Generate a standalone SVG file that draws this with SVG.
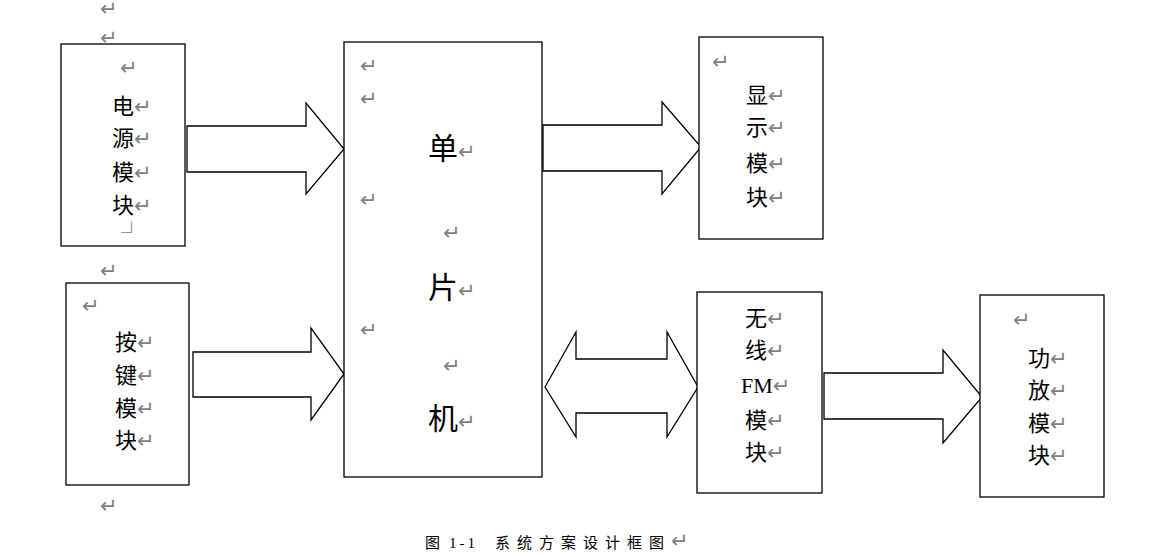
<svg xmlns="http://www.w3.org/2000/svg" width="1164" height="557" viewBox="0 0 1164 557">
<style>
.box{fill:#fff;stroke:#000;stroke-width:1.3}
.arr{fill:#fff;stroke:#000;stroke-width:1.3;stroke-linejoin:miter}
.t{font-family:"Liberation Serif","Noto Sans CJK SC",serif;font-size:22px;fill:#000}
.big{font-size:30px}
.p{font-family:"Noto Sans CJK SC","DejaVu Sans",sans-serif;font-size:21px;fill:#808080}
.cap{font-family:"Liberation Serif","Noto Sans CJK SC",serif;font-size:15px;fill:#000}
</style>
<rect width="1164" height="557" fill="#fff"/>
<text class="p" x="100" y="16">↵</text>
<text class="p" x="100" y="45">↵</text>
<text class="p" x="100" y="278">↵</text>
<text class="p" x="100" y="513">↵</text>

<g id="connectors">
<polygon class="arr" points="187,126 306,126 306,103 344,149 306,194 306,172 187,172"/>
<polygon class="arr" points="193,352 311,352 311,328 344,374 311,420 311,397 193,397"/>
<polygon class="arr" points="543,125 662,125 662,102 701,147 662,194 662,171 543,171"/>
<polygon class="arr" points="545,387 576,332 576,359 667,359 667,332 698,387 667,437 667,413 576,413 576,437"/>
<polygon class="arr" points="824,373 943,373 943,350 982,397 943,443 943,419 824,419"/>
</g>

<g id="power">
<rect class="box" x="61" y="44" width="124" height="202"/>
<text class="p" x="120" y="75">↵</text>
<text class="t" x="112" y="114">电<tspan class="p">↵</tspan></text>
<text class="t" x="112" y="146">源<tspan class="p">↵</tspan></text>
<text class="t" x="112" y="180">模<tspan class="p">↵</tspan></text>
<text class="t" x="112" y="213">块<tspan class="p">↵</tspan></text>
<text class="p" x="121" y="240" font-size="13">┘</text>
</g>

<g id="keys">
<rect class="box" x="66" y="283" width="123" height="202"/>
<text class="p" x="82" y="313">↵</text>
<text class="t" x="115" y="350">按<tspan class="p">↵</tspan></text>
<text class="t" x="115" y="383">键<tspan class="p">↵</tspan></text>
<text class="t" x="115" y="416">模<tspan class="p">↵</tspan></text>
<text class="t" x="115" y="448">块<tspan class="p">↵</tspan></text>
</g>

<g id="mcu">
<rect class="box" x="344" y="42" width="198" height="435"/>
<text class="p" x="360" y="73">↵</text>
<text class="p" x="360" y="106">↵</text>
<text class="t big" x="428" y="159">单<tspan class="p" font-size="26">↵</tspan></text>
<text class="p" x="360" y="207">↵</text>
<text class="p" x="443" y="240">↵</text>
<text class="t big" x="428" y="298">片<tspan class="p" font-size="26">↵</tspan></text>
<text class="p" x="360" y="337">↵</text>
<text class="p" x="443" y="373">↵</text>
<text class="t big" x="428" y="429">机<tspan class="p" font-size="26">↵</tspan></text>
</g>

<g id="display">
<rect class="box" x="699" y="37" width="124" height="202"/>
<text class="p" x="712" y="69">↵</text>
<text class="t" x="746" y="103">显<tspan class="p">↵</tspan></text>
<text class="t" x="746" y="135">示<tspan class="p">↵</tspan></text>
<text class="t" x="746" y="171">模<tspan class="p">↵</tspan></text>
<text class="t" x="746" y="205">块<tspan class="p">↵</tspan></text>
</g>

<g id="fm">
<rect class="box" x="697" y="292" width="125" height="201"/>
<text class="t" x="745" y="326">无<tspan class="p">↵</tspan></text>
<text class="t" x="745" y="358">线<tspan class="p">↵</tspan></text>
<text class="t" x="741" y="393">FM<tspan class="p">↵</tspan></text>
<text class="t" x="745" y="428">模<tspan class="p">↵</tspan></text>
<text class="t" x="745" y="460">块<tspan class="p">↵</tspan></text>
</g>

<g id="amp">
<rect class="box" x="980" y="295" width="124" height="202"/>
<text class="p" x="1013" y="327">↵</text>
<text class="t" x="1028" y="366">功<tspan class="p">↵</tspan></text>
<text class="t" x="1028" y="398">放<tspan class="p">↵</tspan></text>
<text class="t" x="1028" y="431">模<tspan class="p">↵</tspan></text>
<text class="t" x="1028" y="463">块<tspan class="p">↵</tspan></text>
</g>

<text class="cap" y="548"><tspan x="425">图</tspan><tspan x="449" letter-spacing="3">1-1</tspan><tspan x="495" letter-spacing="7">系统方案设计框图</tspan><tspan class="p" font-size="17">↵</tspan></text>
</svg>
